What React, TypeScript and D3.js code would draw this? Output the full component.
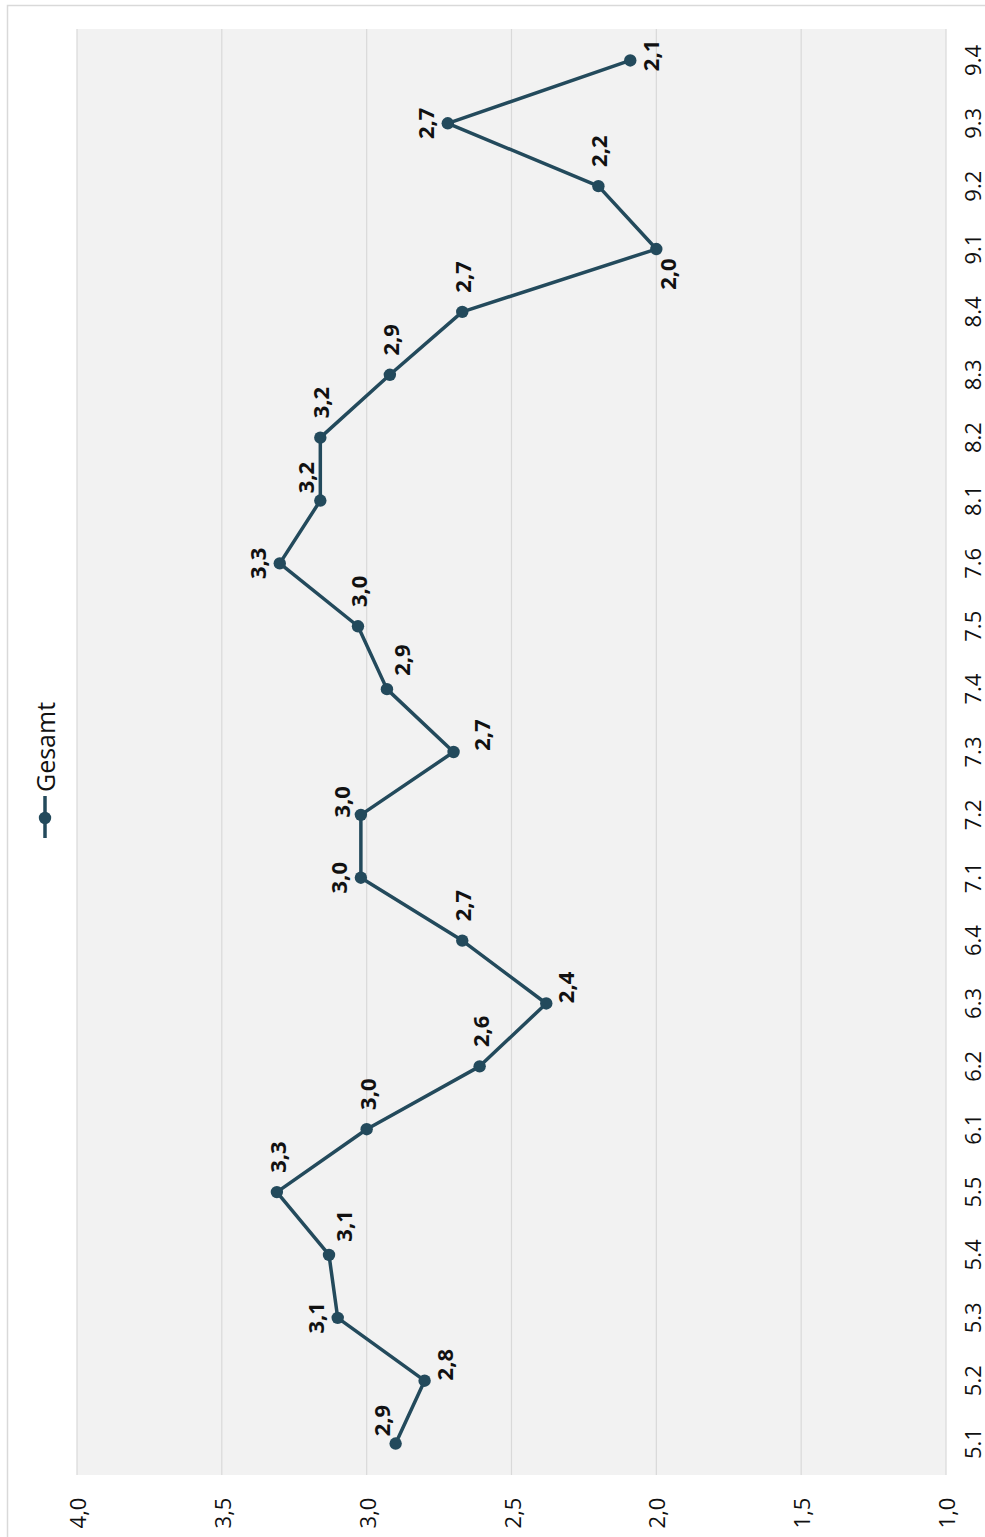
import React from "react";
import * as d3 from "d3";

const categories = ["5.1","5.2","5.3","5.4","5.5","6.1","6.2","6.3","6.4","7.1","7.2","7.3","7.4","7.5","7.6","8.1","8.2","8.3","8.4","9.1","9.2","9.3","9.4"];
const values = [2.9,2.8,3.1,3.13,3.31,3.0,2.61,2.38,2.67,3.02,3.02,2.7,2.93,3.03,3.3,3.16,3.16,2.92,2.67,2.0,2.2,2.72,2.09];
const labelPlacement = ["la","ra","l","ra2","a","a","a","ra","a","l","la2","ra3","ra2","a","l","la","a","a","a","rb","a","l","r"];
const valueTicks = [4.0,3.5,3.0,2.5,2.0,1.5,1.0];
const seriesName = "Gesamt";

const W = 985, H = 1537;
const plot = { left: 77, right: 946, top: 29, bottom: 1475 };
const lineColor = "#234a5c";
const font = "'Open Sans', 'Noto Sans', sans-serif";

const offsets: Record<string, [number, number]> = {
  a: [0, -35],
  l: [-23, 0],
  r: [20, -5],
  la: [-15, -23],
  la2: [-20, -13],
  ra: [19, -16],
  ra2: [14, -29],
  ra3: [27, -17],
  rb: [11, 25],
};

const fmt = (v: number) => d3.format(".1f")(v).replace(".", ",");

export default function App() {
  const x = d3.scaleLinear().domain([4, 1]).range([plot.left, plot.right]);
  const y = d3.scaleBand<string>().domain(categories).range([plot.bottom, plot.top]).padding(0);
  const cy = (c: string) => (y(c) as number) + y.bandwidth() / 2;
  const pts = categories.map((c, i) => [x(values[i]), cy(c)] as [number, number]);
  const line = d3.line<[number, number]>()(pts) as string;

  return (
    <div style={{ position: "fixed", left: 0, top: 0, width: W, height: H, overflow: "hidden", background: "#fff" }}>
      <svg width={W} height={H} style={{ display: "block" }}>
        <rect x={7.5} y={5.5} width={W + 20} height={H + 20} fill="#fff" stroke="#d9d9d9" strokeWidth={1.5} />
        <rect x={plot.left} y={plot.top} width={plot.right - plot.left} height={plot.bottom - plot.top} fill="#f2f2f2" />
        {valueTicks.map((t) => (
          <line key={"g" + t} x1={x(t)} x2={x(t)} y1={plot.top} y2={plot.bottom} stroke="#d9d9d9" strokeWidth={1.2} />
        ))}
        {valueTicks.map((t) => (
          <text key={"t" + t} transform={`translate(${x(t)},${1513}) rotate(-90)`} textAnchor="middle" dominantBaseline="central"
            fontFamily={font} fontSize={22} fill="#111">{fmt(t)}</text>
        ))}
        {categories.map((c) => (
          <text key={"c" + c} transform={`translate(${981},${cy(c)}) rotate(-90)`} textAnchor="middle"
            fontFamily={font} fontSize={22} fill="#111">{c}</text>
        ))}
        <path d={line} fill="none" stroke={lineColor} strokeWidth={3.5} strokeLinejoin="round" />
        {pts.map((p, i) => (
          <circle key={"p" + i} cx={p[0]} cy={p[1]} r={6.2} fill={lineColor} />
        ))}
        {pts.map((p, i) => {
          const o = offsets[labelPlacement[i]];
          return (
            <text key={"l" + i} transform={`translate(${p[0] + o[0]},${p[1] + o[1]}) rotate(-90)`} textAnchor="middle" dominantBaseline="central"
              fontFamily={font} fontSize={22} fontWeight="bold" fill="#111">{fmt(values[i])}</text>
          );
        })}
        <g>
          <line x1={45} x2={45} y1={796} y2={838} stroke={lineColor} strokeWidth={3.5} />
          <circle cx={45} cy={818} r={6.2} fill={lineColor} />
          <text transform={`translate(45,${747}) rotate(-90)`} textAnchor="middle" dominantBaseline="central"
            fontFamily={font} fontSize={25} fill="#111">{seriesName}</text>
        </g>
      </svg>
    </div>
  );
}
